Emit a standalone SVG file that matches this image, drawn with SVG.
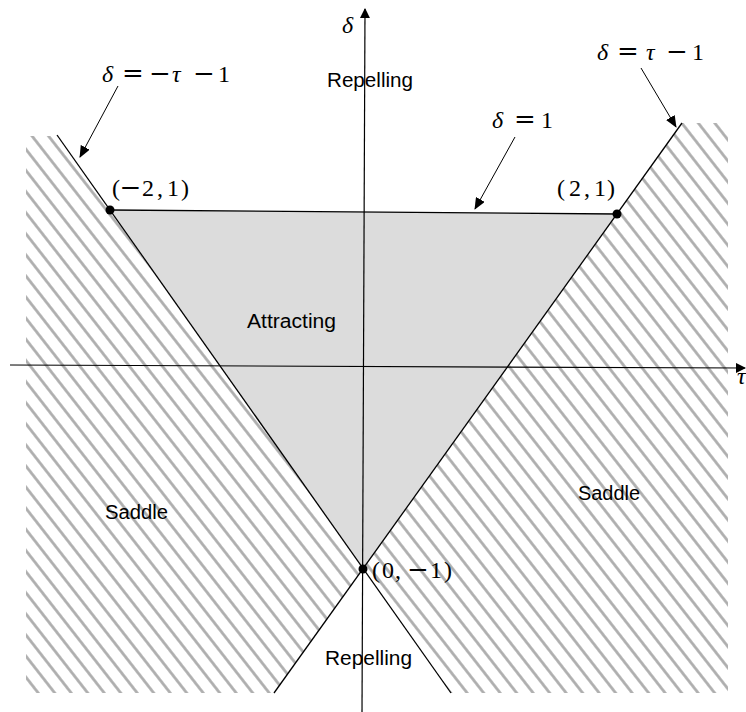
<svg xmlns="http://www.w3.org/2000/svg" width="746" height="712" viewBox="0 0 746 712">
<style>
.lbl{font-family:"Liberation Sans",Arial,sans-serif;font-size:20px;fill:#000}
.math{font-family:"Liberation Serif","Times New Roman",serif;font-size:24px;fill:#000}
.it{font-style:italic}
.op{font-family:"DejaVu Serif",serif;font-size:26px}
.bd{stroke:#000;stroke-width:1.3;fill:none}
.ptr{stroke:#000;stroke-width:1;fill:none;marker-end:url(#ah)}
.dot{fill:#000}
</style>
<defs>
<pattern id="hatch" patternUnits="userSpaceOnUse" width="13" height="13" patternTransform="rotate(52)">
<line x1="-2" y1="6.5" x2="15" y2="6.5" stroke="#ababab" stroke-width="2.7"/>
</pattern>
<marker id="ah" markerWidth="12" markerHeight="10" refX="11" refY="5" orient="auto" markerUnits="userSpaceOnUse">
<path d="M0,0 L12,5 L0,10 Z" fill="#000"/>
</marker>
<marker id="axh" markerWidth="10" markerHeight="10" refX="9" refY="5" orient="auto" markerUnits="userSpaceOnUse">
<path d="M0,0 L10,5 L0,10 Z" fill="#000"/>
</marker>
</defs>
<rect width="746" height="712" fill="#fff"/>
<g id="regions">
<polygon id="saddle-left-region" points="26,136 57,136 363,569 274,693 26,693" fill="url(#hatch)"/>
<polygon id="saddle-right-region" points="682,123 728,123 728,693 451,693 363,569" fill="url(#hatch)"/>
<polygon id="attracting-region" points="110,210 617,214 363,569" fill="#dcdcdc"/>
</g>
<g id="axes">
<line x1="362" y1="712" x2="365" y2="9" stroke="#000" stroke-width="1.2" marker-end="url(#axh)"/>
<line x1="10" y1="365" x2="745" y2="368" stroke="#000" stroke-width="1.2" marker-end="url(#axh)"/>
<text class="math it" x="342" y="33" font-size="25">δ</text>
<text class="math it" x="737" y="384">τ</text>
</g>
<g id="boundaries">
<line class="bd" x1="57" y1="135" x2="451" y2="693"/>
<line class="bd" x1="682" y1="123" x2="274" y2="693"/>
<line class="bd" x1="110" y1="210" x2="617" y2="214"/>
</g>
<g id="connectors">
<line class="ptr" x1="118" y1="86" x2="80" y2="157"/>
<line class="ptr" x1="641" y1="68" x2="676" y2="127"/>
<line class="ptr" x1="515" y1="137" x2="475" y2="209"/>
</g>
<g id="label-left-line"><text class="math"><tspan class="it" x="102" y="82">δ</tspan><tspan class="op" x="122" y="82">=</tspan><tspan class="op" x="149" y="82">−</tspan><tspan class="it" x="172" y="82">τ</tspan><tspan class="op" x="193" y="82">−</tspan><tspan x="218" y="82">1</tspan></text></g>
<g id="label-right-line"><text class="math"><tspan class="it" x="597" y="60">δ</tspan><tspan class="op" x="617" y="60">=</tspan><tspan class="it" x="646" y="60">τ</tspan><tspan class="op" x="666" y="60">−</tspan><tspan x="692" y="60">1</tspan></text></g>
<g id="label-top-line"><text class="math"><tspan class="it" x="492" y="128">δ</tspan><tspan class="op" x="514" y="128">=</tspan><tspan x="541" y="128">1</tspan></text></g>
<g id="point-m2-1"><circle class="dot" cx="110" cy="210" r="4.5"/><text class="math"><tspan x="112" y="196">(</tspan><tspan class="op" x="119.5" y="196">−</tspan><tspan x="142" y="196">2</tspan><tspan x="157" y="196">,</tspan><tspan x="167" y="196">1</tspan><tspan x="181" y="196">)</tspan></text></g>
<g id="point-2-1"><circle class="dot" cx="617" cy="214" r="4.5"/><text class="math"><tspan x="557" y="196">(</tspan><tspan x="569" y="196">2</tspan><tspan x="584" y="196">,</tspan><tspan x="594" y="196">1</tspan><tspan x="607" y="196">)</tspan></text></g>
<g id="point-0-m1"><circle class="dot" cx="363" cy="569" r="4.5"/><text class="math"><tspan x="372" y="578">(</tspan><tspan x="382" y="578">0</tspan><tspan x="395" y="578">,</tspan><tspan class="op" x="407" y="578">−</tspan><tspan x="430" y="578">1</tspan><tspan x="444" y="578">)</tspan></text></g>
<g id="repelling-top"><text class="lbl" x="327" y="87" textLength="86" lengthAdjust="spacingAndGlyphs">Repelling</text></g>
<g id="attracting"><text class="lbl" x="247" y="328" textLength="89" lengthAdjust="spacingAndGlyphs">Attracting</text></g>
<g id="saddle-left"><text class="lbl" x="105" y="519" textLength="63" lengthAdjust="spacingAndGlyphs">Saddle</text></g>
<g id="saddle-right"><text class="lbl" x="578" y="500" textLength="62" lengthAdjust="spacingAndGlyphs">Saddle</text></g>
<g id="repelling-bottom"><text class="lbl" x="325" y="665" textLength="87" lengthAdjust="spacingAndGlyphs">Repelling</text></g>
</svg>
